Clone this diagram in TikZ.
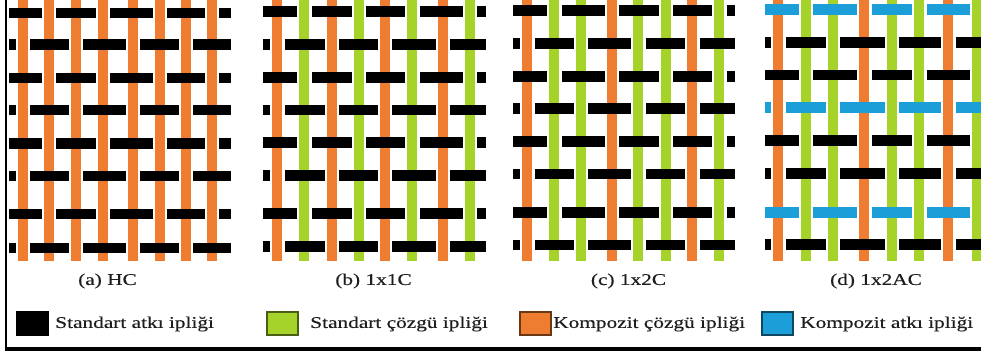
\documentclass[tikz,border=0pt]{standalone}
\usepackage{fontspec}
\setmainfont{Liberation Serif}
\newfontfamily\labfont[FakeStretch=1.3, FakeBold=0.35]{Liberation Serif}

\definecolor{warpor}{RGB}{238,125,49}
\definecolor{warpgr}{RGB}{165,211,42}
\definecolor{weftbl}{RGB}{28,158,216}
\definecolor{weftbk}{RGB}{0,0,0}
\definecolor{txtcol}{RGB}{30,30,30}

% One plain-weave panel: #1 left end of wefts, #2 right end,
% #3 warps as x/colour, #4 wefts as y/colour.
% Odd rows pass over odd warps; elsewhere the warp is laid on top.
\newcommand\drawweave[4]{%
  \foreach \wx/\wc in {#3} {\draw[warpline, draw=\wc] (\wx,0) -- (\wx,261);}
  \foreach \wy/\fc in {#4} {\draw[weftline, draw=\fc] (#1,\wy) -- (#2,\wy);}
  \foreach \wy/\fc [count=\r] in {#4} {
    \foreach \wx/\wc [count=\j] in {#3} {
      \pgfmathtruncatemacro\wpar{mod(\r+\j,2)}
      \ifnum\wpar=1
        \fill[white] (\wx-7.2,\wy-6.5) rectangle (\wx+7.2,\wy+6.5);
        \fill[\wc] (\wx-5,\wy-7) rectangle (\wx+5,\wy+7);
      \fi
    }
  }
}

\begin{document}
\begin{tikzpicture}[x=0.75pt, y=-0.75pt,
  warpline/.style={line width=7.5pt},
  weftline/.style={line width=7.9pt},
  lbl/.style={font=\labfont\fontsize{12.3}{14}\selectfont, text=txtcol, inner sep=0pt},
  keybox/.style={line width=0.9pt},
  frameline/.style={line width=#1, draw=black}]
\useasboundingbox (0,0) rectangle (981,351);
\clip (0,0) rectangle (981,351);
\fill[white] (0,0) rectangle (981,351);

% (a) HC
\drawweave{9}{231}
  {22.7/warpor,49/warpor,76/warpor,103/warpor,133/warpor,160/warpor,186/warpor,212/warpor}
  {13/weftbk,44.5/weftbk,78/weftbk,110/weftbk,143.5/weftbk,176/weftbk,214/weftbk,248/weftbk}

% (b) 1x1C
\drawweave{263}{486}
  {277.3/warpor,304.3/warpgr,331.7/warpor,359/warpgr,385/warpor,412.3/warpgr,442.7/warpor,470/warpgr}
  {11.7/weftbk,44.3/weftbk,77.3/weftbk,110/weftbk,142.7/weftbk,175.7/weftbk,213.3/weftbk,246.7/weftbk}

% (c) 1x2C
\drawweave{513}{735}
  {527.3/warpor,554.3/warpgr,581/warpgr,611.7/warpor,638.3/warpgr,665.7/warpgr,692.3/warpor,719.3/warpgr}
  {10.7/weftbk,43.3/weftbk,76.7/weftbk,108.3/weftbk,141.7/weftbk,174/weftbk,212.3/weftbk,245/weftbk}

% (d) 1x2AC
\drawweave{765}{995}
  {778.3/warpor,806/warpgr,832.7/warpgr,864.3/warpor,891.7/warpgr,919.3/warpgr,948.3/warpor,976.7/warpgr}
  {9.3/weftbl,42.3/weftbk,75/weftbk,107.7/weftbl,140.7/weftbk,173.3/weftbk,212.3/weftbl,244.3/weftbk}

% panel captions
\node[lbl] (capa) at (107.5,281) {(a) HC};
\node[lbl] (capb) at (373.5,281) {(b) 1x1C};
\node[lbl] (capc) at (628.5,281) {(c) 1x2C};
\node[lbl] (capd) at (876,281) {(d) 1x2AC};

% legend
\filldraw[keybox, fill=black, draw=black] (17,312) rectangle (48,335);
\node[lbl, anchor=west] (keya) at (55,324) {Standart atkı ipliği};
\filldraw[keybox, fill=warpgr, draw=warpgr!45!black] (267,312) rectangle (298,335);
\node[lbl, anchor=west] (keyb) at (310,324) {Standart çözgü ipliği};
\filldraw[keybox, fill=warpor, draw=warpor!45!black] (520,312) rectangle (551,335);
\node[lbl, anchor=west] (keyc) at (553,324) {Kompozit çözgü ipliği};
\filldraw[keybox, fill=weftbl, draw=weftbl!45!black] (762,312) rectangle (793,335);
\node[lbl, anchor=west] (keyd) at (800,324) {Kompozit atkı ipliği};

% frame: left and bottom rules
\draw[frameline=1.9pt] (6.2,0) -- (6.2,351);
\draw[frameline=3pt] (5,348.5) -- (981,348.5);
\end{tikzpicture}
\end{document}
